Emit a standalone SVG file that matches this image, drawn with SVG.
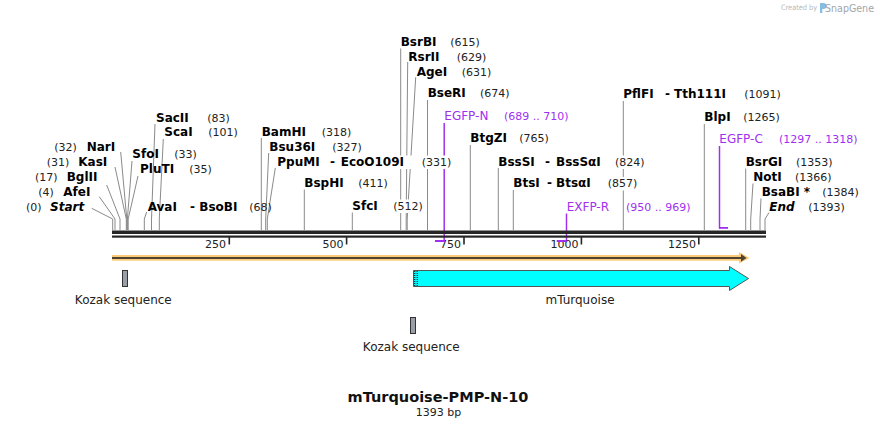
<svg xmlns="http://www.w3.org/2000/svg" width="878" height="428" viewBox="0 0 878 428">
<style>
.e{font-family:"DejaVu Sans",Verdana,sans-serif;font-weight:bold;font-size:12px;fill:#000}
.ei{font-family:"DejaVu Sans",Verdana,sans-serif;font-weight:bold;font-style:italic;font-size:12px;fill:#000}
.n{font-family:"DejaVu Sans",Verdana,sans-serif;font-size:11px;fill:#222}
.p{font-family:"DejaVu Sans",Verdana,sans-serif;font-size:12px;fill:#a030f0}
.pn{font-family:"DejaVu Sans",Verdana,sans-serif;font-size:11px;fill:#a030f0}
.f{font-family:"DejaVu Sans",Verdana,sans-serif;font-size:12px;fill:#222}
.t{font-family:"DejaVu Sans",Verdana,sans-serif;font-size:11px;fill:#222}
.lead{stroke:#8a8a8a;stroke-width:1;fill:none}
.prim{stroke:#a030f0;stroke-width:1.5;fill:none}
.pbar{fill:#a030f0}
.bg{fill:#fff}
.koz{fill:#9a9fa7;stroke:#333;stroke-width:1}
</style>
<rect width="878" height="428" fill="#fff"/>

<g id="logo">
<text x="781" y="10" font-family="DejaVu Sans,sans-serif" font-size="7.5" fill="#b8b8b8" textLength="36" lengthAdjust="spacingAndGlyphs">Created by</text>
<path d="M820 3 h3.5 a3 3 0 0 1 0 6 h-1.2 v4 h-2.3 z" fill="#86bde3"/>
<text x="825" y="12" font-family="DejaVu Sans,sans-serif" font-size="10" fill="#a0a6ad" textLength="49" lengthAdjust="spacingAndGlyphs">SnapGene</text>
</g>

<g id="connectors">
<polyline class="lead" points="91.7,208.3 112.7,219 112.7,230"/>
<polyline class="lead" points="99.3,196.7 115,219 115,230"/>
<polyline class="lead" points="106.7,185 120,219 120,230"/>
<polyline class="lead" points="115,167 126.3,219 126.3,230"/>
<polyline class="lead" points="120.7,152 126.8,219 126.8,230"/>
<polyline class="lead" points="132,161 127.4,219 127.4,230"/>
<polyline class="lead" points="138,176 128.2,219 128.2,230"/>
<polyline class="lead" points="146.7,212 144.3,219 144.3,230"/>
<polyline class="lead" points="155,124 151.5,219 151.5,230"/>
<polyline class="lead" points="163.3,139 159.3,219 159.3,230"/>
<polyline class="lead" points="261.3,138 261.3,230"/>
<polyline class="lead" points="268.7,153 265.7,219 265.7,230"/>
<polyline class="lead" points="275.3,168 267.3,219 267.3,230"/>
<polyline class="lead" points="304.3,189.5 304.3,230"/>
<polyline class="lead" points="352.3,212.5 352.3,230"/>
<polyline class="lead" points="400.7,48.5 400.7,230"/>
<polyline class="lead" points="407.7,62 406.2,219 406.2,230"/>
<polyline class="lead" points="415.7,77.3 407.2,219 407.2,230"/>
<polyline class="lead" points="427.5,100 427.5,230"/>
<polyline class="lead" points="470.3,145 470.3,230"/>
<polyline class="lead" points="498.3,168 498.3,230"/>
<polyline class="lead" points="513.3,190 513.3,230"/>
<polyline class="lead" points="623.3,101 623.3,230"/>
<polyline class="lead" points="704.3,124 704.3,230"/>
<polyline class="lead" points="745.7,168.5 745.7,230"/>
<polyline class="lead" points="753,183.5 750.7,219 750.7,230"/>
<polyline class="lead" points="761,198.5 760,219 760,230"/>
<polyline class="lead" points="769,212.5 765,219 765,230"/>
<line class="prim" x1="444.2" y1="123" x2="444.2" y2="242"/>
<line class="prim" x1="566.5" y1="213.5" x2="566.5" y2="242"/>
<line class="prim" x1="719.5" y1="146" x2="719.5" y2="228.5"/>
</g>

<g id="backbone">
<rect x="112" y="230.5" width="654" height="3.5" fill="#262626"/>
<rect x="112" y="235.5" width="654" height="2.2" fill="#262626"/>
<rect x="228.5" y="237" width="1.6" height="7.5" fill="#262626"/>
<rect x="345.8" y="237" width="1.6" height="7.5" fill="#262626"/>
<rect x="463.2" y="237" width="1.6" height="7.5" fill="#262626"/>
<rect x="580.6" y="237" width="1.6" height="7.5" fill="#262626"/>
<rect x="698" y="237" width="1.6" height="7.5" fill="#262626"/>
<text class="t" x="226" y="248" text-anchor="end">250</text>
<text class="t" x="343.5" y="248" text-anchor="end">500</text>
<text class="t" x="461" y="248" text-anchor="end">750</text>
<text class="t" x="578.5" y="248" text-anchor="end">1000</text>
<text class="t" x="696" y="248" text-anchor="end">1250</text>
</g>

<g id="primer-EGFP-N">
<rect class="pbar" x="435" y="240" width="10" height="2"/>
<text class="p" x="444.3" y="120">EGFP-N</text>
<text class="pn" x="504" y="120">(689 .. 710)</text>
</g>
<g id="primer-EXFP-R">
<rect class="pbar" x="556.7" y="240" width="10" height="2"/>
<rect class="bg" x="625" y="201" width="70" height="13"/>
<text class="p" x="566.7" y="211">EXFP-R</text>
<text class="pn" x="626" y="211">(950 .. 969)</text>
</g>
<g id="primer-EGFP-C">
<rect class="pbar" x="719" y="227" width="9" height="1.8"/>
<text class="p" x="719.3" y="143.3">EGFP-C</text>
<text class="pn" x="779" y="143.3">(1297 .. 1318)</text>
</g>

<g id="site-Start"><text class="n" x="26" y="211">(0)</text><text class="ei" x="50" y="211">Start</text></g>
<g id="site-AfeI"><text class="n" x="38.3" y="196">(4)</text><text class="e" x="63.3" y="196">AfeI</text></g>
<g id="site-BglII"><text class="n" x="35" y="181">(17)</text><text class="e" x="66.7" y="181">BglII</text></g>
<g id="site-KasI"><text class="n" x="46.7" y="165.7">(31)</text><text class="e" x="78.3" y="165.7">KasI</text></g>
<g id="site-NarI"><text class="n" x="54.3" y="150.7">(32)</text><text class="e" x="86.7" y="150.7">NarI</text></g>
<g id="site-SfoI"><text class="e" x="132.3" y="158.3">SfoI</text><text class="n" x="174.3" y="158.3">(33)</text></g>
<g id="site-PluTI"><text class="e" x="140" y="173.3">PluTI</text><text class="n" x="189.3" y="173.3">(35)</text></g>
<g id="site-AvaI"><text class="e" x="147.7" y="211">AvaI</text><text class="e" x="190" y="211">-</text><text class="e" x="199.3" y="211">BsoBI</text><text class="n" x="249.3" y="211">(68)</text></g>
<g id="site-SacII"><text class="e" x="156" y="121.7">SacII</text><text class="n" x="207.3" y="121.7">(83)</text></g>
<g id="site-ScaI"><text class="e" x="164.3" y="136">ScaI</text><text class="n" x="208.3" y="136">(101)</text></g>
<g id="site-BamHI"><text class="e" x="261.7" y="135.7">BamHI</text><text class="n" x="321.7" y="135.7">(318)</text></g>
<g id="site-Bsu36I"><text class="e" x="269.3" y="150.7">Bsu36I</text><text class="n" x="332.3" y="150.7">(327)</text></g>
<g id="site-PpuMI"><rect class="bg" x="338" y="155.5" width="116" height="13.5"/><text class="e" x="277.3" y="165.7">PpuMI</text><text class="e" x="330" y="165.7">-</text><text class="e" x="340.7" y="165.7">EcoO109I</text><text class="n" x="421.7" y="165.7">(331)</text></g>
<g id="site-BspHI"><text class="e" x="304.3" y="187.3">BspHI</text><text class="n" x="358.3" y="187.3">(411)</text></g>
<g id="site-SfcI"><rect class="bg" x="391" y="199.5" width="34" height="13.5"/><text class="e" x="352.3" y="210">SfcI</text><text class="n" x="393.3" y="210">(512)</text></g>
<g id="site-BsrBI"><text class="e" x="400.7" y="46">BsrBI</text><text class="n" x="450.3" y="46">(615)</text></g>
<g id="site-RsrII"><text class="e" x="408.3" y="60.7">RsrII</text><text class="n" x="456.7" y="60.7">(629)</text></g>
<g id="site-AgeI"><text class="e" x="416.7" y="75.7">AgeI</text><text class="n" x="461.7" y="75.7">(631)</text></g>
<g id="site-BseRI"><text class="e" x="427.7" y="97.3">BseRI</text><text class="n" x="480" y="97.3">(674)</text></g>
<g id="site-BtgZI"><text class="e" x="470.3" y="142.3">BtgZI</text><text class="n" x="519.3" y="142.3">(765)</text></g>
<g id="site-BssSI"><rect class="bg" x="612" y="155.5" width="36" height="13.5"/><text class="e" x="498.3" y="165.7">BssSI</text><text class="e" x="545" y="165.7">-</text><text class="e" x="556" y="165.7">BssSαI</text><text class="n" x="615" y="165.7">(824)</text></g>
<g id="site-BtsI"><rect class="bg" x="605" y="177" width="36" height="13.5"/><text class="e" x="513.3" y="187.3">BtsI</text><text class="e" x="547" y="187.3">-</text><text class="e" x="556" y="187.3">BtsαI</text><text class="n" x="607.7" y="187.3">(857)</text></g>
<g id="site-PflFI"><text class="e" x="623.3" y="98.3">PflFI</text><text class="e" x="665" y="98.3">-</text><text class="e" x="674" y="98.3">Tth111I</text><text class="n" x="744.3" y="98.3">(1091)</text></g>
<g id="site-BlpI"><text class="e" x="704.3" y="121">BlpI</text><text class="n" x="743.3" y="121">(1265)</text></g>
<g id="site-BsrGI"><text class="e" x="745.7" y="166">BsrGI</text><text class="n" x="796" y="166">(1353)</text></g>
<g id="site-NotI"><text class="e" x="753.3" y="181">NotI</text><text class="n" x="795" y="181">(1366)</text></g>
<g id="site-BsaBI"><text class="e" x="761.7" y="196">BsaBI *</text><text class="n" x="822.3" y="196">(1384)</text></g>
<g id="site-End"><text class="ei" x="769.3" y="210.7">End</text><text class="n" x="808.3" y="210.7">(1393)</text></g>

<g id="orf-orange">
<rect x="112" y="255" width="630" height="5.7" fill="#fbcb7b"/>
<polygon points="739,252 749.5,257.9 739,263.6" fill="#fbcb7b"/>
<rect x="112" y="257" width="631" height="2" fill="#4e432f"/>
<polygon points="741,254 746.5,258 741,261.8" fill="#4e432f"/>
</g>

<g id="feature-kozak-1">
<rect class="koz" x="122.5" y="270.5" width="5" height="16"/>
<text class="f" x="123.3" y="304" text-anchor="middle">Kozak sequence</text>
</g>
<g id="feature-mTurquoise">
<polygon points="413.5,270.5 729.5,270.5 729.5,266.5 748.5,278.5 729.5,290.5 729.5,286.5 413.5,286.5" fill="#00ffff" stroke="#555" stroke-width="1"/>
<line x1="414.8" y1="271" x2="414.8" y2="286" stroke="#000" stroke-width="1" stroke-dasharray="1,1"/>
<line x1="417.2" y1="271" x2="417.2" y2="286" stroke="#000" stroke-width="1" stroke-dasharray="1,1"/>
<text class="f" x="580" y="304" text-anchor="middle">mTurquoise</text>
</g>
<g id="feature-kozak-2">
<rect class="koz" x="410.5" y="317.5" width="5" height="16"/>
<text class="f" x="411.3" y="351" text-anchor="middle">Kozak sequence</text>
</g>

<g id="title">
<text x="438" y="402" text-anchor="middle" font-family="DejaVu Sans,Verdana,sans-serif" font-weight="bold" font-size="14.5" fill="#111">mTurquoise-PMP-N-10</text>
<text x="438.5" y="416" text-anchor="middle" font-family="DejaVu Sans,Verdana,sans-serif" font-size="11" fill="#222">1393 bp</text>
</g>
</svg>
